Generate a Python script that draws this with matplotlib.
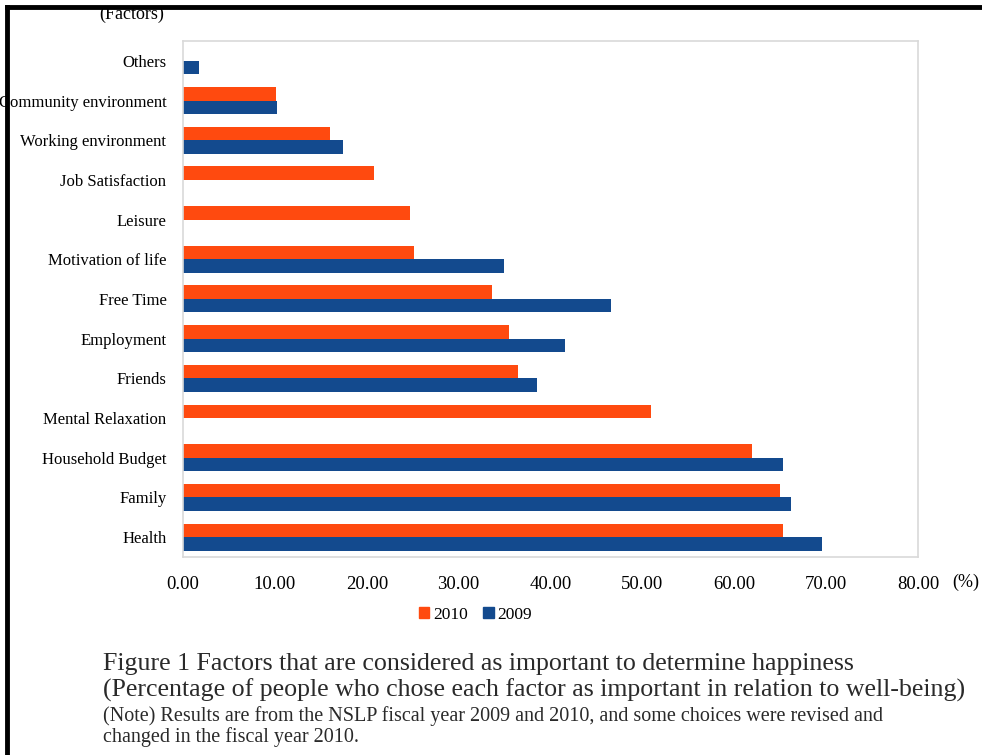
import matplotlib.pyplot as plt
import numpy as np
from matplotlib.lines import Line2D
from matplotlib.patches import Patch

plt.rcParams['font.family'] = ['Liberation Serif', 'DejaVu Serif']

# data (bottom to top)
factors = ['Health', 'Family', 'Household Budget', 'Mental Relaxation', 'Friends',
           'Employment', 'Free Time', 'Motivation of life', 'Leisure',
           'Job Satisfaction', 'Working environment', 'Community environment', 'Others']
vals_2010 = [65.3, 65.0, 61.9, 50.9, 36.5, 35.5, 33.6, 25.1, 24.7, 20.8, 16.0, 10.1, np.nan]
vals_2009 = [69.6, 66.2, 65.3, np.nan, 38.5, 41.6, 46.6, 34.9, np.nan, np.nan, 17.4, 10.2, 1.7]
xticks = [0, 10, 20, 30, 40, 50, 60, 70, 80]

c2010 = '#FF4A0F'
c2009 = '#134A8E'

fig = plt.figure(figsize=(9.82, 7.55), dpi=100)
ax = fig.add_axes([0.1864, 0.2623, 0.7484, 0.6834])

y = np.arange(len(factors))
h = 0.34
ax.barh(y + h / 2, vals_2010, height=h, color=c2010, label='2010')
ax.barh(y - h / 2, vals_2009, height=h, color=c2009, label='2009')

ax.set_xlim(0, 80)
ax.set_ylim(-0.5, len(factors) - 0.5)
ax.set_xticks(xticks)
ax.set_xticklabels([f'{v:.2f}' for v in xticks], fontsize=13.5)
ax.set_yticks(y)
ax.set_yticklabels(factors, fontsize=12)
ax.tick_params(axis='both', length=0)
ax.tick_params(axis='y', pad=12)
ax.tick_params(axis='x', pad=14)
for s in ax.spines.values():
    s.set_color('#D9D9D9')
    s.set_linewidth(1.2)

fig.text(0.983, 0.229, '(%)', fontsize=13, ha='center', va='center')
fig.text(0.134, 0.981, '(Factors)', fontsize=13, ha='center', va='center')

handles = [Patch(color=c2010, label='2010'), Patch(color=c2009, label='2009')]
fig.legend(handles=handles, loc='center', bbox_to_anchor=(0.484, 0.186), ncol=2,
           frameon=False, fontsize=12.5, handlelength=0.6, handleheight=0.6,
           handletextpad=0.2, columnspacing=0.9)

# caption below the chart
fig.text(0.105, 0.120, 'Figure 1 Factors that are considered as important to determine happiness',
         fontsize=18.6, va='center', color='#2a2a2a')
fig.text(0.105, 0.086, '(Percentage of people who chose each factor as important in relation to well-being)',
         fontsize=18.6, va='center', color='#2a2a2a')
fig.text(0.105, 0.051, '(Note) Results are from the NSLP fiscal year 2009 and 2010, and some choices were revised and',
         fontsize=14.5, va='center', color='#2a2a2a')
fig.text(0.105, 0.024, 'changed in the fiscal year 2010.',
         fontsize=14.5, va='center', color='#2a2a2a')

# black frame lines on top and left edge
fig.add_artist(Line2D([0.007, 1.0], [0.991, 0.991], color='black', linewidth=3.5))
fig.add_artist(Line2D([0.007, 0.007], [0.0, 0.991], color='black', linewidth=3.5))

fig.savefig('out.png', dpi=100)
